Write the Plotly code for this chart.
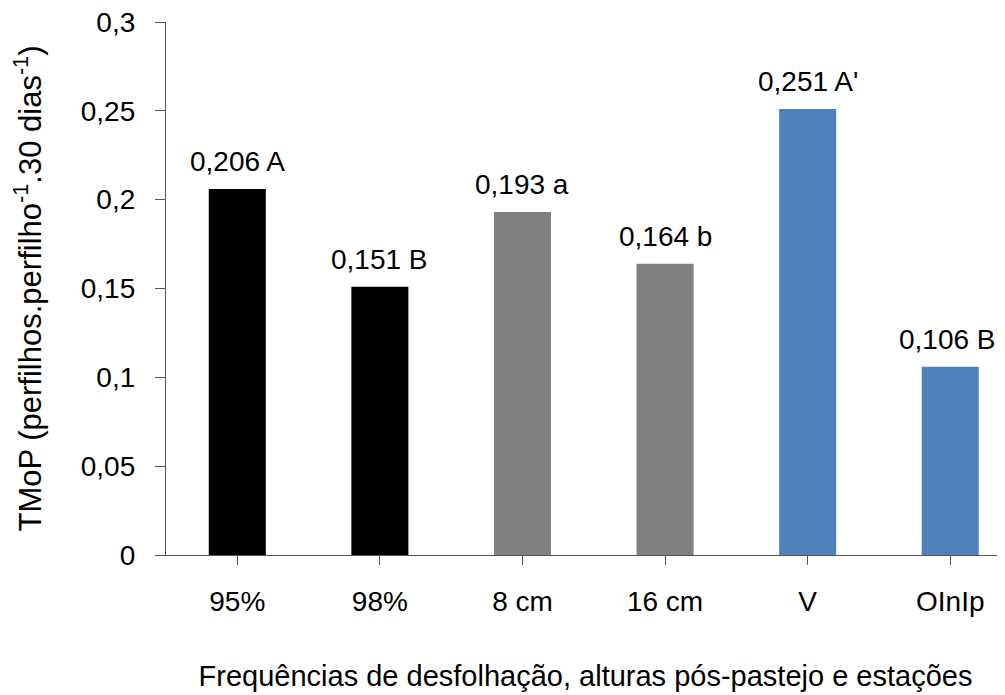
import plotly.graph_objects as go

categories = ["95%", "98%", "8 cm", "16 cm", "V", "OInIp"]
values = [0.206, 0.151, 0.193, 0.164, 0.251, 0.106]
letters = ["A", "B", "a", "b", "A'", "B'"]
colors = ["#000000", "#000000", "#808080", "#808080", "#4F81BD", "#4F81BD"]
yticks = [0, 0.05, 0.1, 0.15, 0.2, 0.25, 0.3]

font_family = "Liberation Sans, Arial, sans-serif"

fig = go.Figure()
fig.add_trace(go.Bar(
    x=list(range(len(categories))),
    y=values,
    width=0.4,
    marker=dict(color=colors, line=dict(width=0)),
    hoverinfo="skip",
))

for i, (v, l) in enumerate(zip(values, letters)):
    fig.add_annotation(
        x=i, y=v, xref="x", yref="y",
        text=f"{v:.3f}".replace(".", ",") + " " + l,
        showarrow=False, yanchor="bottom", yshift=10,
        font=dict(size=28, color="#000000", family=font_family),
    )

fig.update_layout(
    width=997, height=687,
    margin=dict(l=158, r=0, t=14, b=140, autoexpand=False),
    paper_bgcolor="white", plot_bgcolor="white",
    separators=",.",
    showlegend=False,
    font=dict(family=font_family, size=28, color="#000000"),
    xaxis=dict(
        range=[-0.5, 5.384],
        tickvals=list(range(len(categories))),
        ticktext=categories,
        tickson="boundaries",
        ticks="outside", ticklen=9, tickcolor="#555555",
        showline=True, linecolor="#555555", linewidth=1.3,
        showgrid=False, zeroline=False, automargin=False,
        tickfont=dict(size=28), ticklabelstandoff=12,
        title=dict(text="Frequências de desfolhação, alturas pós-pastejo e estações",
                   font=dict(size=29), standoff=49),
    ),
    yaxis=dict(
        range=[0, 0.3],
        tickvals=yticks,
        ticks="outside", ticklen=10, tickcolor="#555555",
        showline=True, linecolor="#555555", linewidth=1.3,
        showgrid=False, zeroline=False, automargin=False,
        tickfont=dict(size=28), ticklabelstandoff=14,
        ticklabeloverflow="allow",
        title=dict(text="TMoP (perfilhos.perfilho<sup>-1</sup>.30 dias<sup>-1</sup>)",
                   font=dict(size=31), standoff=38),
    ),
)

fig.write_html("out.html")
